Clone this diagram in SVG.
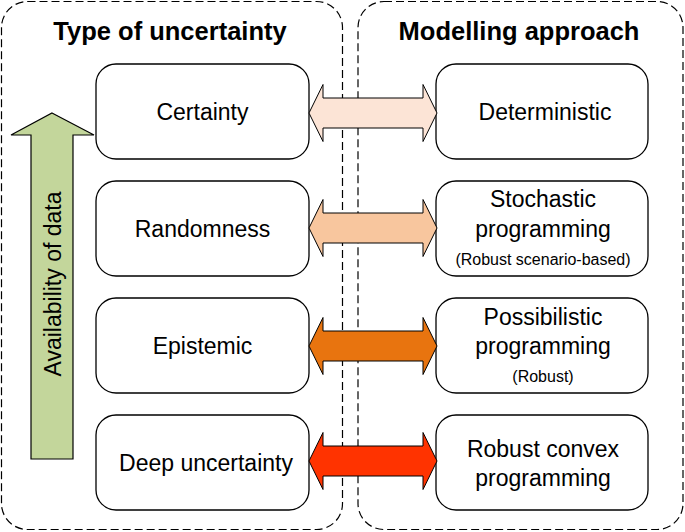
<svg xmlns="http://www.w3.org/2000/svg" width="685" height="532" viewBox="0 0 685 532">
<style>
.cont{fill:#fff;stroke:#000;stroke-width:1.2;stroke-dasharray:8,4}
.box{fill:#fff;stroke:#000;stroke-width:1.3}
.arr{stroke:#000;stroke-width:1}
.t{font-family:"Liberation Sans",Arial,sans-serif;font-size:23px;fill:#000;text-anchor:middle}
.s{font-size:16px}
.h{font-family:"Liberation Sans",Arial,sans-serif;font-size:25.5px;font-weight:bold;fill:#000;text-anchor:middle}
</style>
<rect width="685" height="532" fill="#fff"/>
<g id="col-uncertainty">
<rect class="cont" x="1.5" y="1.5" width="341" height="528" rx="26"/>
<text class="h" x="170" y="40">Type of uncertainty</text>
</g>
<g id="col-modelling">
<rect class="cont" x="358" y="1.5" width="325" height="528" rx="26"/>
<text class="h" x="519" y="40">Modelling approach</text>
</g>
<g id="data-arrow">
<polygon points="52,113 94,135 73,135 73,459 31,459 31,135 11,135" fill="#C3D69B" stroke="#000" stroke-width="1.2"/>
<text class="t" transform="translate(61,284) rotate(-90)">Availability of data</text>
</g>
<g id="n-certainty"><rect class="box" x="96" y="64" width="213" height="95" rx="20"/><text class="t" x="202.5" y="120">Certainty</text></g>
<g id="n-randomness"><rect class="box" x="96" y="181" width="213" height="95" rx="20"/><text class="t" x="202.5" y="237">Randomness</text></g>
<g id="n-epistemic"><rect class="box" x="96" y="298" width="213" height="95" rx="20"/><text class="t" x="202.5" y="354">Epistemic</text></g>
<g id="n-deep"><rect class="box" x="96" y="415" width="213" height="95" rx="20"/><text class="t" x="206" y="471">Deep uncertainty</text></g>
<g id="n-deterministic"><rect class="box" x="436" y="64" width="212" height="95" rx="20"/><text class="t" x="545" y="120">Deterministic</text></g>
<g id="n-stochastic"><rect class="box" x="436" y="181" width="212" height="95" rx="20"/><text class="t" x="543" y="207">Stochastic</text><text class="t" x="543" y="237">programming</text><text class="t s" x="543" y="265">(Robust scenario-based)</text></g>
<g id="n-possibilistic"><rect class="box" x="436" y="298" width="212" height="95" rx="20"/><text class="t" x="543" y="325">Possibilistic</text><text class="t" x="543" y="354">programming</text><text class="t s" x="543" y="382">(Robust)</text></g>
<g id="n-robust"><rect class="box" x="436" y="415" width="212" height="95" rx="20"/><text class="t" x="543" y="457">Robust convex</text><text class="t" x="543" y="486">programming</text></g>
<g id="connectors">
<polygon class="arr" fill="#FCE4D6" points="309,113 323,84.5 323,98 423,98 423,84.5 437,113 423,141.5 423,128 323,128 323,141.5"/>
<polygon class="arr" fill="#F8C69E" points="309,228 323,199.5 323,213 423,213 423,199.5 437,228 423,256.5 423,243 323,243 323,256.5"/>
<polygon class="arr" fill="#E8740F" points="309,346 323,317.5 323,331 423,331 423,317.5 437,346 423,374.5 423,361 323,361 323,374.5"/>
<polygon class="arr" fill="#FF3300" points="309,461 323,432.5 323,446 423,446 423,432.5 437,461 423,489.5 423,476 323,476 323,489.5"/>
</g>
</svg>
